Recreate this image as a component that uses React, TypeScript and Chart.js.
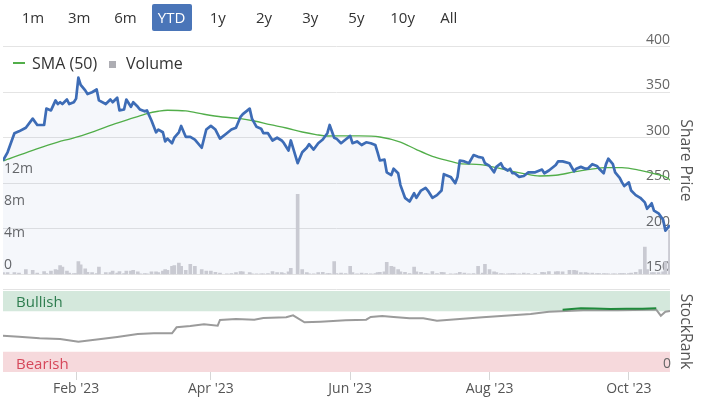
import React, { useEffect, useRef } from "react";
import { Chart, registerables } from "chart.js";
Chart.register(...registerables);

const FONT = "'Open Sans', 'DejaVu Sans', sans-serif";

const rangeButtons = ["1m", "3m", "6m", "YTD", "1y", "2y", "3y", "5y", "10y", "All"];
const activeRange = "YTD";

// x values: days since 1 Jan 2023
const priceDays = [-1,1,4,6,9,12,14,17,18,20,22,23,24,25,27,28,30,31,32,33,35,36,38,40,41,44,46,47,49,50,52,53,55,56,58,59,61,62,64,66,67,69,70,71,73,74,76,77,79,81,83,86,88,90,92,94,97,99,101,103,104,107,108,110,112,113,115,117,119,121,122,124,125,128,130,132,133,135,137,139,141,142,144,145,147,149,151,152,154,156,158,160,162,163,164,166,167,169,170,172,173,175,177,179,180,182,184,185,187,189,191,192,195,197,198,199,201,203,205,207,209,210,212,214,215,217,218,220,221,222,223,225,227,229,232,235,236,238,241,242,244,247,249,250,252,254,255,257,259,260,262,263,264,266,267,269,270,271,273,274,276,278,280,281,283,284,286,288,289,291];
const sharePrice = [275,284,305,307,311,321,314,314,332,330,341,337,339,337,342,337,339,343,366,358,352,348,350,353,341,337,342,339,344,330,331,342,334,339,334,331,329,330,319,306,309,306,296,299,294,300,306,313,301,301,298,289,309,313,309,299,305,309,311,323,326,332,321,312,310,305,305,297,300,297,294,286,297,272,284,289,293,287,294,298,305,314,300,299,294,298,302,294,296,292,295,294,292,284,275,276,262,259,266,261,248,234,230,239,234,242,245,242,234,237,242,260,257,250,257,275,274,272,281,279,278,272,269,262,268,272,267,264,266,261,261,257,258,262,262,265,261,264,270,274,274,272,263,266,268,266,266,271,269,266,261,271,277,271,262,256,251,247,251,242,237,234,229,222,228,220,217,210,198,204];
// volume in millions, one bar per price day
const volumeM = [0.2,0.2,0.2,0.15,0.6,0.5,0.15,0.35,0.1,0.4,0.6,0.5,1.1,0.9,0.4,0.15,0.1,0.1,1.6,1.2,0.7,0.25,0.2,0.1,0.9,0.2,0.2,0.4,0.15,0.35,0.1,0.4,0.4,0.5,0.3,0.05,0.1,0.05,0.3,0.3,0.2,0.4,0.6,0.5,1.0,1.1,1.4,1.0,0.5,1.25,1.0,0.6,0.4,0.4,0.25,0.15,0.05,0.1,0.2,0.35,0.3,0.2,0.05,0.05,0.05,0.05,0.1,0.35,0.2,0.2,0.1,0.3,0.75,10.0,0.6,0.2,0.05,0.05,0.2,0.25,0.1,0.1,1.6,0.1,0.15,0.1,1.0,0.2,0.05,0.15,0.1,0.05,0.1,0.2,0.25,0.3,1.5,1.0,0.9,0.6,0.3,0.25,0.1,0.9,0.3,0.25,0.1,0.05,0.35,0.1,0.25,0.2,0.05,0.05,0.05,0.25,0.15,0.05,0.1,1.0,0.15,1.25,0.6,0.3,0.2,0.1,0.05,0.05,0.05,0.1,0.1,0.05,0.15,0.1,0.1,0.25,0.2,0.35,0.3,0.35,0.3,0.5,0.5,0.45,0.2,0.2,0.15,0.15,0.1,0.1,0.1,0.05,0.05,0.05,0.05,0.1,0.1,0.1,0.1,0.15,0.25,0.6,3.4,0.6,0.2,0.2,0.2,0.3,1.6,5.5];

const smaDays = [-1,12,23,29,39,47,56,62,67,71,79,87,95,103,109,116,123,130,136,141,149,155,164,173,180,187,195,199,208,215,222,227,234,241,249,256,263,270,278,284,290,291];
const sma50 = [274.5,286.2,295.3,299.1,307.1,314.4,321.7,326.5,329.1,330.2,329.4,325.8,322.8,321.0,318.4,314.4,310.7,306.3,303.5,301.9,302.0,302.0,300.8,295.3,287.0,279.6,274.1,271.6,270.5,267.2,263.1,260.6,258.0,258.8,262.4,265.3,267.2,267.2,264.2,260.6,255.8,253.3];

const rankDays = [-1,6,15,24,32,41,49,58,65,73,75,81,87,93,94,101,109,113,123,126,131,138,149,158,160,165,170,177,183,189,209,230,238,253,268,282,285,287,289,291];
const stockRank = [44.8,43.6,41.6,40.7,37.4,40.4,43.2,46.9,47.8,47.8,55.2,56.8,58.9,57.2,64.2,65.4,64.6,66.7,67.5,70,61.4,62.1,63.8,64.6,67.9,69.1,67.9,66.3,66.3,63.3,67.5,71.6,74.4,76.2,76.2,76.9,76.9,69.5,74.4,75.3];
const bullishDays = [244,252,258,265,272,279,285];
const bullishRank = [76.9,78.6,78.4,77.8,78.2,78.0,78.6];

const monthTickDays = [31, 90, 151, 212, 273];
const monthTickLabels = ["Feb '23", "Apr '23", "Jun '23", "Aug '23", "Oct '23"];
const volumeTicks = [0, 4, 8, 12];
const rankTicks = [0];
const bullishBand = [75, 100];
const bearishBand = [0, 25];

const X_MIN = -1;
const X_MAX = 291;

const zeroPad = (s: any) => {
  s.paddingTop = 0;
  s.paddingBottom = 0;
};

const bandsPlugin = {
  id: "bands",
  beforeDraw(chart: any) {
    const { ctx, chartArea } = chart;
    const y = chart.scales.y;
    const l = chartArea.left;
    const w = chartArea.right - chartArea.left;
    ctx.save();
    ctx.strokeStyle = "#e3e3e3";
    ctx.lineWidth = 1;
    ctx.beginPath();
    ctx.moveTo(l, chartArea.top - 1.5);
    ctx.lineTo(chartArea.right, chartArea.top - 1.5);
    ctx.stroke();
    const yb1 = y.getPixelForValue(bullishBand[1]);
    const yb0 = y.getPixelForValue(bullishBand[0]);
    ctx.fillStyle = "#d4e8dc";
    ctx.fillRect(l, yb1, w, yb0 - yb1);
    const yr1 = y.getPixelForValue(bearishBand[1]);
    const yr0 = y.getPixelForValue(bearishBand[0]);
    ctx.fillStyle = "#f6d9dc";
    ctx.fillRect(l, yr1, w, yr0 - yr1);
    ctx.font = `15px ${FONT}`;
    ctx.textBaseline = "middle";
    ctx.textAlign = "left";
    ctx.fillStyle = "#2e7d4f";
    ctx.fillText("Bullish", l + 13, (yb1 + yb0) / 2 + 2);
    ctx.fillStyle = "#d6475a";
    ctx.fillText("Bearish", l + 13, (yr1 + yr0) / 2 + 2.5);
    ctx.restore();
  },
};

export default function App() {
  const mainRef = useRef<HTMLCanvasElement>(null);
  const rankRef = useRef<HTMLCanvasElement>(null);

  useEffect(() => {
    const tickFont = { family: FONT, size: 14 };
    const titleFont = { family: FONT, size: 15.7 };

    const main = new Chart(mainRef.current as HTMLCanvasElement, {
      type: "line",
      data: {
        datasets: [
          {
            type: "line",
            label: "Price",
            data: priceDays.map((d, i) => ({ x: d, y: sharePrice[i] })),
            yAxisID: "price",
            borderColor: "#3d6cb6",
            borderWidth: 2.7,
            pointRadius: 0,
            fill: { value: 150 },
            backgroundColor: "rgba(60,100,180,0.05)",
            borderJoinStyle: "round",
            order: 0,
          } as any,
          {
            type: "line",
            label: "SMA (50)",
            data: smaDays.map((d, i) => ({ x: d, y: sma50[i] })),
            yAxisID: "price",
            borderColor: "#52ae4a",
            borderWidth: 1.3,
            pointRadius: 0,
            fill: false,
            cubicInterpolationMode: "monotone",
            order: 1,
          } as any,
          {
            type: "bar",
            label: "Volume",
            data: priceDays.map((d, i) => ({ x: d, y: volumeM[i] })),
            yAxisID: "volume",
            backgroundColor: "#c9cad2",
            barThickness: 3,
            order: 2,
          } as any,
        ],
      },
      options: {
        responsive: false,
        animation: false,
        events: [],
        layout: { padding: { top: 46.7, bottom: 10.7, left: 1, right: 6.1 } },
        plugins: {
          legend: { display: false },
          tooltip: { enabled: false },
          filler: { drawTime: "beforeDatasetsDraw" } as any,
        },
        scales: {
          x: { type: "linear", min: X_MIN, max: X_MAX, display: false, offset: false },
          price: {
            type: "linear",
            position: "right",
            min: 150,
            max: 400,
            ticks: { stepSize: 50, mirror: true, padding: 0, labelOffset: -7, color: "#666", font: tickFont },
            grid: { color: "#e4e4e4", drawTicks: false },
            border: { display: false },
            title: { display: true, text: "Share Price", color: "#555", font: titleFont, padding: { top: 0, bottom: 6.1 } },
            afterFit: zeroPad,
          } as any,
          volume: {
            type: "linear",
            position: "left",
            min: 0,
            max: 28.5,
            afterBuildTicks: (s: any) => {
              s.ticks = volumeTicks.map((v) => ({ value: v }));
            },
            ticks: {
              mirror: true,
              padding: 1,
              labelOffset: -9,
              color: "#666",
              font: tickFont,
              callback: (v: any) => (v === 0 ? "0" : v + "m"),
            },
            grid: { display: false, drawTicks: false },
            border: { display: false },
            afterFit: zeroPad,
          } as any,
        },
      },
    });

    const rank = new Chart(rankRef.current as HTMLCanvasElement, {
      type: "line",
      data: {
        datasets: [
          {
            label: "StockRank",
            data: rankDays.map((d, i) => ({ x: d, y: stockRank[i] })),
            borderColor: "#9b9b9b",
            borderWidth: 2,
            pointRadius: 0,
            order: 1,
          },
          {
            label: "Bullish",
            data: bullishDays.map((d, i) => ({ x: d, y: bullishRank[i] })),
            borderColor: "#1f8a3b",
            borderWidth: 2,
            pointRadius: 0,
            order: 0,
          },
        ],
      },
      options: {
        responsive: false,
        animation: false,
        events: [],
        layout: { padding: { top: 6, bottom: 0, left: 3, right: 6.1 } },
        plugins: { legend: { display: false }, tooltip: { enabled: false } },
        scales: {
          x: {
            type: "linear",
            min: X_MIN,
            max: X_MAX,
            offset: false,
            afterBuildTicks: (s: any) => {
              s.ticks = monthTickDays.map((v) => ({ value: v }));
            },
            ticks: {
              autoSkip: false,
              maxRotation: 0,
              padding: 1,
              color: "#555",
              font: tickFont,
              callback: (v: any) => monthTickLabels[monthTickDays.indexOf(v)],
            },
            grid: { drawOnChartArea: false, drawTicks: true, tickLength: 8, color: "#d6d6d6" },
            border: { display: false },
            afterFit: (s: any) => {
              s.height = 25;
              s.paddingLeft = 0;
              s.paddingRight = 0;
            },
          } as any,
          y: {
            type: "linear",
            position: "right",
            min: 0,
            max: 100,
            afterBuildTicks: (s: any) => {
              s.ticks = rankTicks.map((v) => ({ value: v }));
            },
            ticks: { mirror: true, padding: 1, labelOffset: -8, color: "#666", font: tickFont },
            grid: { display: false, drawTicks: false },
            border: { display: false },
            title: { display: true, text: "StockRank", color: "#555", font: titleFont, padding: { top: 0, bottom: 4.1 } },
            afterFit: zeroPad,
          } as any,
        },
      },
      plugins: [bandsPlugin],
    });

    return () => {
      main.destroy();
      rank.destroy();
    };
  }, []);

  const btnCenters = rangeButtons.map((_, i) => 33 + i * 46.2);

  return (
    <div
      style={{
        position: "absolute",
        left: 0,
        top: 0,
        width: 701,
        height: 397,
        overflow: "hidden",
        background: "#fff",
        fontFamily: FONT,
      }}
    >
      <canvas
        ref={mainRef}
        width={701}
        height={285}
        style={{ position: "absolute", left: 0, top: 0, width: 701, height: 285 }}
      />
      <canvas
        ref={rankRef}
        width={701}
        height={112}
        style={{ position: "absolute", left: 0, top: 285, width: 701, height: 112 }}
      />
      {rangeButtons.map((b, i) => {
        const active = b === activeRange;
        return (
          <div
            key={b}
            style={{
              position: "absolute",
              left: btnCenters[i] - 20,
              top: 4,
              width: 40,
              height: 27,
              lineHeight: "27px",
              textAlign: "center",
              fontSize: 15,
              color: active ? "#fff" : "#333",
              background: active ? "#4a75b8" : "transparent",
              borderRadius: 2,
            }}
          >
            {b}
          </div>
        );
      })}
      <div style={{ position: "absolute", left: 13, top: 62, width: 12, height: 1.5, background: "#52ae4a" }} />
      <div style={{ position: "absolute", left: 32, top: 52, fontSize: 16, lineHeight: "22px", color: "#333" }}>
        SMA (50)
      </div>
      <div style={{ position: "absolute", left: 109, top: 61, width: 7, height: 7, background: "#adadb3" }} />
      <div style={{ position: "absolute", left: 126, top: 52, fontSize: 16, lineHeight: "22px", color: "#333" }}>
        Volume
      </div>
    </div>
  );
}
